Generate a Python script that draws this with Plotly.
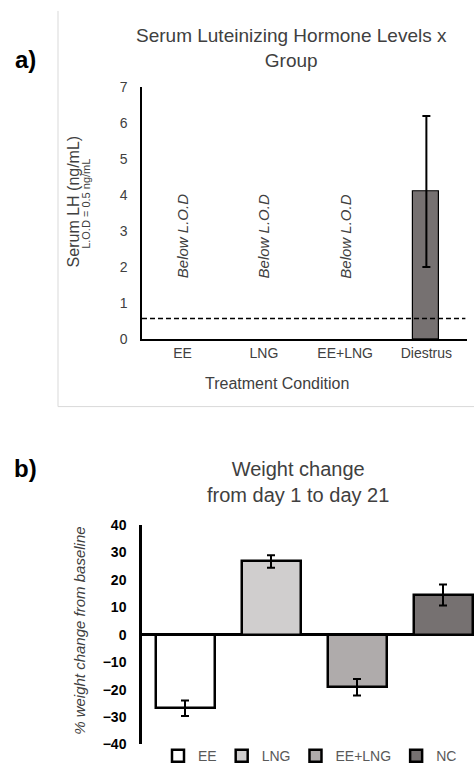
import plotly.graph_objects as go

W, H = 474, 774

# ---------- data ----------
lh_groups = ["EE", "LNG", "EE+LNG", "Diestrus"]
lh_values = [None, None, None, 4.1]
lh_errors = [None, None, None, 2.1]
lod_line = 0.57
below_lod_groups = ["EE", "LNG", "EE+LNG"]
below_lod_y = 2.85

wt_groups = ["EE", "LNG", "EE+LNG", "NC"]
wt_values = [-26.8, 26.7, -19.1, 14.5]
wt_errors = [2.8, 2.3, 3.0, 3.8]
wt_colors = ["#ffffff", "#d0cece", "#afabab", "#767171"]

FONT = "Arial, Liberation Sans, sans-serif"

def px_x(p):
    return p / W

def px_y(p):
    return 1 - p / H

fig = go.Figure()

# ---------- panel a ----------
fig.add_trace(go.Bar(
    x=lh_groups, y=lh_values, width=0.32,
    marker=dict(color="#767171", line=dict(color="black", width=1.2)),
    error_y=dict(type="data", array=lh_errors, visible=True, color="black", thickness=2, width=4),
    xaxis="x", yaxis="y", showlegend=False,
))

# ---------- panel b ----------
for i, (g, v, e, c) in enumerate(zip(wt_groups, wt_values, wt_errors, wt_colors)):
    fig.add_trace(go.Bar(
        x=[i], y=[v], width=0.686, name=g,
        marker=dict(color=c, line=dict(color="black", width=2.5)),
        error_y=dict(type="data", array=[e], visible=True, color="black", thickness=2, width=4),
        xaxis="x2", yaxis="y2", showlegend=True,
    ))

annotations = []
for g in below_lod_groups:
    annotations.append(dict(x=g, y=below_lod_y, xref="x", yref="y", text="<i>Below L.O.D</i>",
                            textangle=-90, showarrow=False, font=dict(size=15, color="#404040", family=FONT)))

# titles / labels
annotations += [
    dict(x=px_x(291), y=px_y(40.5), xref="paper", yref="paper", text="Serum Luteinizing Hormone Levels x<br>Group",
         showarrow=False, font=dict(size=19, color="#404040", family=FONT), xanchor="center", yanchor="middle"),
    dict(x=px_x(25), y=px_y(53), xref="paper", yref="paper", text="<b>a)</b>",
         showarrow=False, font=dict(size=24, color="black", family=FONT), xanchor="center", yanchor="middle"),
    dict(x=px_x(73), y=px_y(197.5), xref="paper", yref="paper", text="Serum LH (ng/mL)", textangle=-90,
         showarrow=False, font=dict(size=16, color="#404040", family=FONT), xanchor="center", yanchor="middle"),
    dict(x=px_x(86.5), y=px_y(200.5), xref="paper", yref="paper", text="L.O.D = 0.5 ng/mL", textangle=-90,
         showarrow=False, font=dict(size=11, color="#404040", family=FONT), xanchor="center", yanchor="middle"),
    dict(x=px_x(277), y=px_y(383), xref="paper", yref="paper", text="Treatment Condition",
         showarrow=False, font=dict(size=16, color="#404040", family=FONT), xanchor="center", yanchor="middle"),
    dict(x=px_x(298), y=px_y(484), xref="paper", yref="paper", text="Weight change<br>from day 1 to day 21",
         showarrow=False, font=dict(size=20, color="#404040", family=FONT), xanchor="center", yanchor="middle"),
    dict(x=px_x(25), y=px_y(470), xref="paper", yref="paper", text="<b>b)</b>",
         showarrow=False, font=dict(size=24, color="black", family=FONT), xanchor="center", yanchor="middle"),
    dict(x=px_x(80), y=px_y(636), xref="paper", yref="paper", text="<i>% weight change from baseline</i>", textangle=-90,
         showarrow=False, font=dict(size=15, color="#404040", family=FONT), xanchor="center", yanchor="middle"),
]

shapes = [
    # LOD dashed line
    dict(type="line", xref="x domain", yref="y", x0=0, x1=0.995, y0=lod_line, y1=lod_line,
         line=dict(color="black", width=1.5, dash="5px,3px")),
    # panel frame (light grey)
    dict(type="line", xref="paper", yref="paper", x0=px_x(58), x1=px_x(58), y0=px_y(3), y1=px_y(407),
         line=dict(color="#d9d9d9", width=1)),
    dict(type="line", xref="paper", yref="paper", x0=px_x(58), x1=1, y0=px_y(407), y1=px_y(407),
         line=dict(color="#d9d9d9", width=1)),
]

fig.update_layout(
    width=W, height=H, margin=dict(l=0, r=0, t=0, b=0),
    paper_bgcolor="white", plot_bgcolor="white",
    font=dict(family=FONT, color="#404040"),
    bargap=0,
    xaxis=dict(domain=[px_x(142), px_x(467)], range=[-0.5, 3.5], showline=True, linecolor="black", linewidth=1.5,
               showgrid=False, zeroline=False, ticks="", tickfont=dict(size=14, color="#404040"),
               anchor="y", fixedrange=True),
    yaxis=dict(domain=[px_y(338), px_y(81)], range=[0, 7], dtick=1, showline=True, linecolor="black", linewidth=1.5,
               showgrid=False, zeroline=False, ticks="", tickfont=dict(size=14, color="#404040"),
               ticklabelstandoff=10, anchor="x"),
    xaxis2=dict(domain=[px_x(142), 1], range=[-0.5, -0.5 + 332 / 86], showline=False, showgrid=False,
                zeroline=False, showticklabels=False, ticks="", anchor="y2"),
    yaxis2=dict(domain=[px_y(752), px_y(528)], range=[-40, 40], dtick=10, showline=True, linecolor="black",
                linewidth=2.5, showgrid=False, zeroline=True, zerolinecolor="black", zerolinewidth=2.5,
                ticks="", tickfont=dict(size=14, color="black", family=FONT, weight="bold"),
                ticklabelstandoff=10, anchor="x2"),
    legend=dict(orientation="h", x=px_x(158), xanchor="left", y=px_y(764), yanchor="middle",
                font=dict(size=14, color="#595959"), traceorder="normal", bgcolor="rgba(0,0,0,0)",
                itemwidth=30),
    annotations=annotations,
    shapes=shapes,
)

fig.write_html("out.html")
